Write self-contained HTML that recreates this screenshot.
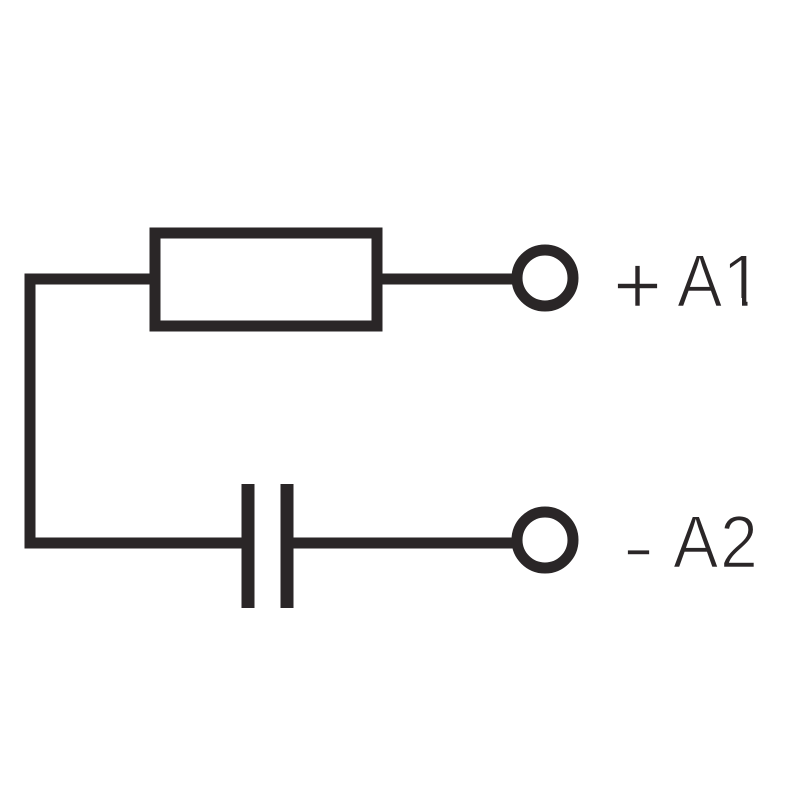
<!DOCTYPE html>
<html>
<head>
<meta charset="utf-8">
<style>
html,body{margin:0;padding:0;background:#fff;width:800px;height:800px;overflow:hidden}
svg{display:block}
text{font-family:"Liberation Sans",sans-serif;fill:#2a2627;stroke:#fff;stroke-width:1.6px;font-size:74px}
</style>
</head>
<body>
<svg width="800" height="800" viewBox="0 0 800 800">
<g fill="none" stroke="#2a2627" stroke-width="12">
<rect x="155" y="233" width="222" height="93" stroke-width="11"/>
<path d="M155 279H30V543H245" stroke-width="11"/>
<path d="M377 279H516" stroke-width="11"/>
<path d="M292 543H516" stroke-width="11"/>
<path d="M248 484V608" stroke-width="13"/>
<path d="M287 484V608" stroke-width="13"/>
<circle cx="545" cy="278" r="28" stroke-width="11"/>
<circle cx="545" cy="540" r="28" stroke-width="11"/>
</g>
<text x="613" y="314" style="font-size:84px">+</text>
<text transform="translate(677 306.5) scale(0.92 1)" x="0" y="0">A</text>
<text x="722" y="306.5">1</text>
<rect x="724" y="298" width="18" height="11" fill="#fff"/>
<rect x="747.5" y="298" width="20" height="11" fill="#fff"/>
<text transform="translate(622.5 571) scale(1.375 1)" x="0" y="0" style="font-size:70px">-</text>
<text transform="translate(673 567.5) scale(0.92 1)" x="0" y="0">A</text>
<text transform="translate(720 567.5) scale(0.92 1)" x="0" y="0">2</text>
</svg>
</body>
</html>
